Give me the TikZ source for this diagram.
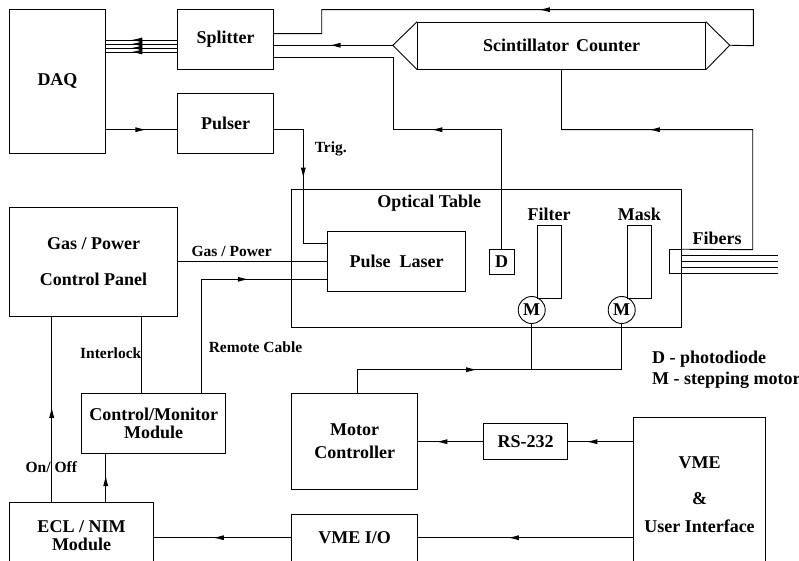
\documentclass[tikz,border=0pt]{standalone}
\usepackage{fontspec}
\setmainfont{Liberation Serif}
\usetikzlibrary{arrows.meta,decorations.markings}
\tikzset{
  big/.style={font=\fontsize{18}{18}\selectfont\bfseries},
  small/.style={font=\fontsize{15.5}{16}\selectfont\bfseries},
  blk/.style={draw, rectangle, inner sep=0pt, align=center, big},
  motor/.style={draw, circle, inner sep=0pt, minimum size=27pt, big},
  arrowat/.style={postaction={decorate},
    decoration={markings, mark=at position #1 with {\arrow{Latex[length=11pt,width=5pt]}}}},
}
\begin{document}
\begin{tikzpicture}[x=1pt, y=-1pt, line width=0.9pt]
\useasboundingbox (0,0) rectangle (799,561);
\clip (0,0) rectangle (799,561);

% boxes
\node[blk, minimum width=96.4pt, minimum height=144.4pt] (daq) at (57.5,81.5) {DAQ};
\node[blk, minimum width=96.4pt, minimum height=60.4pt] (split) at (225.5,39.5) {Splitter};
\node[blk, minimum width=96.4pt, minimum height=60pt] (pulser) at (225.5,123.7) {Pulser};
\node[blk, minimum width=287.6pt, minimum height=47.3pt] (scint) at (561.5,45.7) {Scintillator\hspace{7pt}Counter};
\draw (scint.north west) -- ++(-24.4,23.65) coordinate (sl) -- (scint.south west);
\draw (scint.north east) -- ++(24,23.65) coordinate (sr) -- (scint.south east);

\node[blk, minimum width=168.4pt, minimum height=108.3pt] (gas) at (93.5,261.8) {Gas / Power\\[18pt]Control Panel};

\node[blk, minimum width=390pt, minimum height=138.4pt] (table) at (486.7,258.5) {};
\node[big] (tablelbl) at (429.2,202.7) {Optical Table};
\node[blk, minimum width=138.4pt, minimum height=59.3pt] (laser) at (396.5,261.3) {Pulse\hspace{9pt}Laser};
\node[blk, minimum size=24.7pt] (diode) at (501.7,261.7) {D};
\node[blk, minimum width=24pt, minimum height=72.3pt] (filter) at (549.7,261.8) {};
\node[big] (filterlbl) at (549,214.3) {Filter};
\node[blk, minimum width=24pt, minimum height=72.3pt] (mask) at (639.7,261.8) {};
\node[big] (masklbl) at (639.3,214.3) {Mask};
\node[motor] (m1) at (531.7,310) {M};
\node[motor] (m2) at (621.7,310) {M};
\node[draw, inner sep=0pt, minimum width=12.4pt, minimum height=23.6pt] (fib) at (675.5,261.5) {};
\node[big] (fiblbl) at (717.2,238.5) {Fibers};

\node[blk, minimum width=144pt, minimum height=60pt] (cm) at (153.7,423.3) {Control/Monitor\\Module};
\node[blk, minimum width=144.4pt, minimum height=66.6pt] (ecl) at (81.5,535.5) {ECL / NIM\\Module};
\node[blk, minimum width=126pt, minimum height=96pt] (mc) at (354.7,441.3) {Motor\\[5pt]Controller};
\node[blk, minimum width=84.4pt, minimum height=36pt] (rs) at (525.5,441.3) {RS-232};
\node[blk, minimum width=126pt, minimum height=48pt] (vmeio) at (354.7,538) {VME I/O};
\node[blk, minimum width=132.4pt, minimum height=153pt] (vme) at (699.5,494.2) {VME\\[18pt]\&\\[10pt]User Interface};

% labels
\node[small] (gaslbl) at (231.7,251) {Gas / Power};
\node[small] (remlbl) at (255.5,346.7) {Remote Cable};
\node[small, anchor=east, inner sep=0pt] (intlbl) at (141.7,352.7) {Interlock};
\node[small] (onofflbl) at (51.3,467.3) {On/ Off};
\node[small] (triglbl) at (330.8,149) {Trig.};
\node[big, anchor=west, inner sep=0pt] (legd) at (651.7,359) {D - photodiode};
\node[big, anchor=west, inner sep=0pt] (legm) at (651.7,380) {M - stepping motor};

% connectors
\draw[arrowat=40.3pt] (daq.east |- 0,129.7) -- (pulser.west |- 0,129.7);
\foreach \s in {-0.5,-4.5,-8.5,-12.5}
  \draw[arrowat=45.6pt] ([yshift=\s pt]split.west) coordinate (t) -- (t -| daq.east);
\draw[arrowat=78.2pt] (pulser.east |- 0,129.7) -- (303.3,129.7) -- (303.3,243.3) -- (laser.west |- 0,243.3);
\draw[arrowat=274pt] (sr) -- (753.3,45.7) -- (753.3,9.7) -- (321.7,9.7) -- (321.7,33.7) -- (split.east |- 0,33.7);
\draw[arrowat=63.3pt] (sl) -- (split.east |- sl);
\draw[arrowat=189.6pt] (diode.north) -- (501.7,129.7) -- (393.3,129.7) -- (393.3,57.7) -- (split.east |- 0,57.7);
\draw[arrowat=294.4pt] (fib.north east) -- (752.7,249.7) -- (752.7,129.7) -- (scint.south |- 0,129.7) -- (scint.south);
\draw (gas.east |- 0,261.7) -- (laser.west |- 0,261.7);
\draw[arrowat=160.6pt] (cm.north -| 201.7,0) -- (201.7,279.3) -- (laser.west |- 0,279.3);
\draw (gas.south -| 141.7,0) -- (cm.north -| 141.7,0);
\draw[arrowat=95pt] (ecl.north -| 51.7,0) -- (gas.south -| 51.7,0);
\draw[arrowat=26.7pt] (ecl.north -| 105.7,0) -- (cm.south -| 105.7,0);
\draw[arrowat=142.6pt] (mc.north -| 357.7,0) -- (357.7,369.7) -- (m2.south |- 0,369.7) -- (m2.south);
\draw (m1.south) -- (m1.south |- 0,369.7);
\draw[arrowat=46.6pt] (vme.west |- 0,441.7) -- (rs.east |- 0,441.7);
\draw[arrowat=46.6pt] (rs.west |- 0,441.7) -- (mc.east |- 0,441.7);
\draw[arrowat=125pt] (vme.west |- 0,537.7) -- (vmeio.east |- 0,537.7);
\draw[arrowat=78.4pt] (vmeio.west |- 0,537.7) -- (ecl.east |- 0,537.7);
\foreach \yy/\nm in {255/f1, 261/f2, 267/f3, 273/f4} {
  \coordinate (\nm) at (778,\yy);
  \draw (fib.east |- \nm) -- (\nm);
}
\end{tikzpicture}
\end{document}
